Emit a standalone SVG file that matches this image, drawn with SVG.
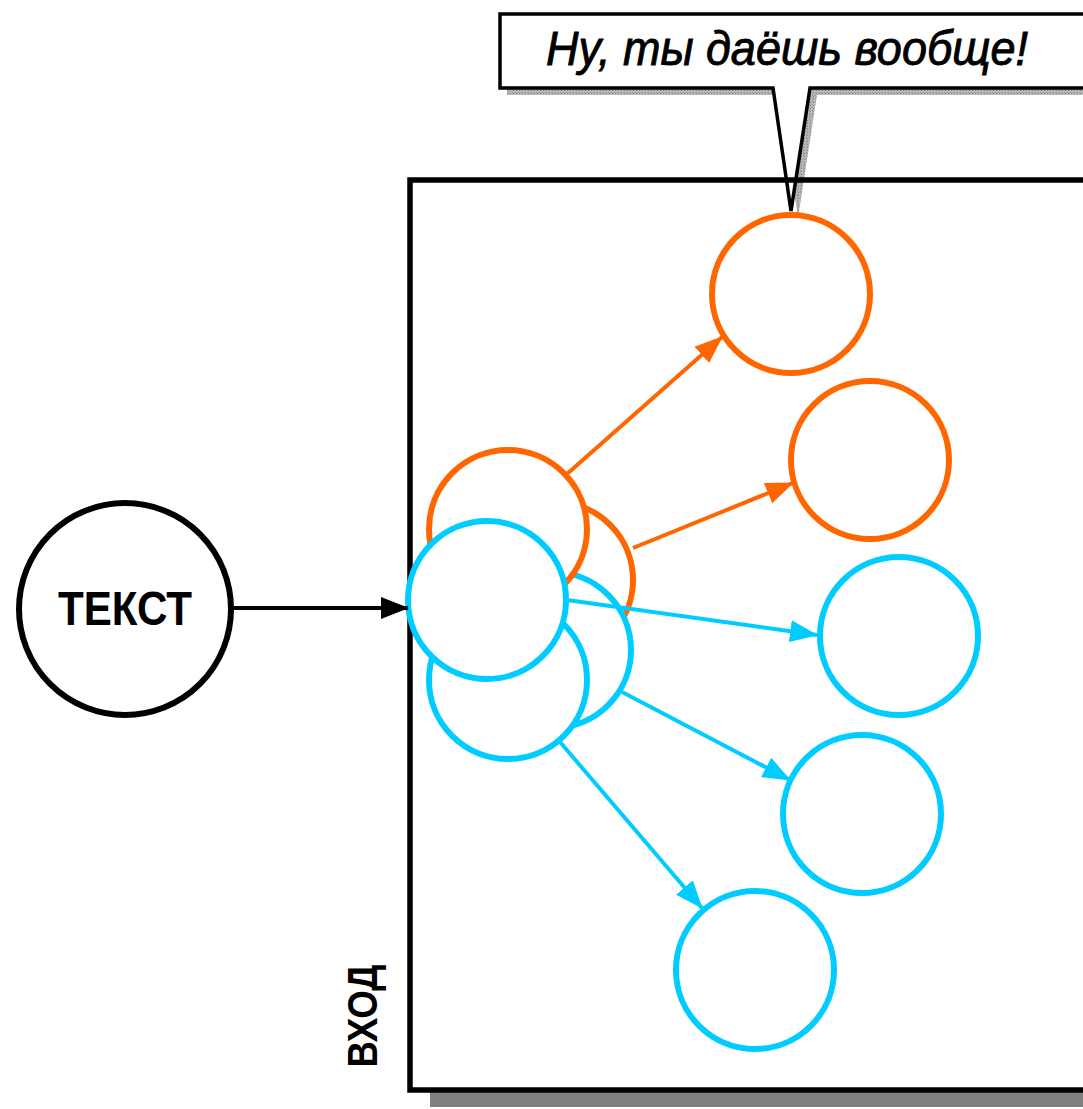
<svg xmlns="http://www.w3.org/2000/svg" width="1083" height="1109" viewBox="0 0 1083 1109">
<style>
.or{fill:#fff;stroke:#ff6600;stroke-width:6}
.cy{fill:#fff;stroke:#00ccff;stroke-width:6}
.lo{stroke:#ff6600;stroke-width:4;fill:none}
.lc{stroke:#00ccff;stroke-width:4;fill:none}
.lb{stroke:#000;stroke-width:4;fill:none}
.t{font-family:"Liberation Sans",Arial,sans-serif;font-weight:bold;fill:#000}
</style>
<defs>
<pattern id="dots" width="3" height="3" patternUnits="userSpaceOnUse">
<rect width="3" height="3" fill="#b8b8b8"/>
<rect width="1" height="1" fill="#808080"/>
<rect x="2" y="2" width="1" height="1" fill="#909090"/>
</pattern>
<marker id="ao" viewBox="0 0 28 22" refX="27" refY="11" markerWidth="28" markerHeight="22" markerUnits="userSpaceOnUse" orient="auto"><path d="M0,0 L28,11 L0,22 Z" fill="#ff6600"/></marker>
<marker id="ac" viewBox="0 0 28 22" refX="27" refY="11" markerWidth="28" markerHeight="22" markerUnits="userSpaceOnUse" orient="auto"><path d="M0,0 L28,11 L0,22 Z" fill="#00ccff"/></marker>
<marker id="ab" viewBox="0 0 28 22" refX="27" refY="11" markerWidth="28" markerHeight="22" markerUnits="userSpaceOnUse" orient="auto"><path d="M0,0 L28,11 L0,22 Z" fill="#000"/></marker>
</defs>
<rect width="1083" height="1109" fill="#fff"/>

<g id="bubble">
<path d="M507,21 H1095 V95 H817 L798,218 L780,95 H507 Z" fill="url(#dots)"/>
<path d="M500,14 H1090 V88 H810 L791,211 L773,88 H500 Z" fill="#fff" stroke="#000" stroke-width="3.5"/>
<text x="787" y="65" font-family="'Liberation Sans',Arial,sans-serif" font-style="italic" font-size="48" stroke="#000" stroke-width="0.9" text-anchor="middle" textLength="482" lengthAdjust="spacingAndGlyphs">Ну, ты даёшь вообще!</text>
</g>

<g id="input-box">
<rect x="430" y="1091" width="680" height="16" fill="#808080"/>
<rect x="410" y="180" width="700" height="910" fill="none" stroke="#000" stroke-width="5.5"/>
<text class="t" transform="translate(377,1016) rotate(-90)" font-size="42" text-anchor="middle" textLength="103" lengthAdjust="spacingAndGlyphs">ВХОД</text>
</g>

<g id="text-node">
<circle cx="125" cy="609" r="106" fill="#fff" stroke="#000" stroke-width="6"/>
<text class="t" x="125" y="625" font-size="48" text-anchor="middle" textLength="134" lengthAdjust="spacingAndGlyphs">ТЕКСТ</text>
</g>

<g id="cluster">
<circle id="o-back" class="or" cx="555" cy="580" r="78"/>
<circle id="c-back" class="cy" cx="553" cy="650" r="78"/>
<circle id="o-front" class="or" cx="508" cy="529" r="79"/>
<circle id="c-bottom" class="cy" cx="508" cy="680" r="79"/>
<circle id="c-front" class="cy" cx="487" cy="600" r="79"/>
</g>

<g id="outputs">
<circle id="out1" class="or" cx="791" cy="294" r="79"/>
<circle id="out2" class="or" cx="870" cy="460" r="79"/>
<circle id="out3" class="cy" cx="899" cy="636" r="79"/>
<circle id="out4" class="cy" cx="862" cy="814" r="79"/>
<circle id="out5" class="cy" cx="755" cy="970" r="79"/>
</g>

<g id="connectors">
<line class="lb" x1="234" y1="608" x2="408" y2="608" marker-end="url(#ab)"/>
<line class="lo" x1="567" y1="474" x2="722" y2="337" marker-end="url(#ao)"/>
<line class="lo" x1="633" y1="548" x2="793" y2="483" marker-end="url(#ao)"/>
<line class="lc" x1="567" y1="600" x2="817" y2="635" marker-end="url(#ac)"/>
<line class="lc" x1="622" y1="692" x2="790" y2="780" marker-end="url(#ac)"/>
<line class="lc" x1="560" y1="742" x2="702" y2="908" marker-end="url(#ac)"/>
</g>
</svg>
